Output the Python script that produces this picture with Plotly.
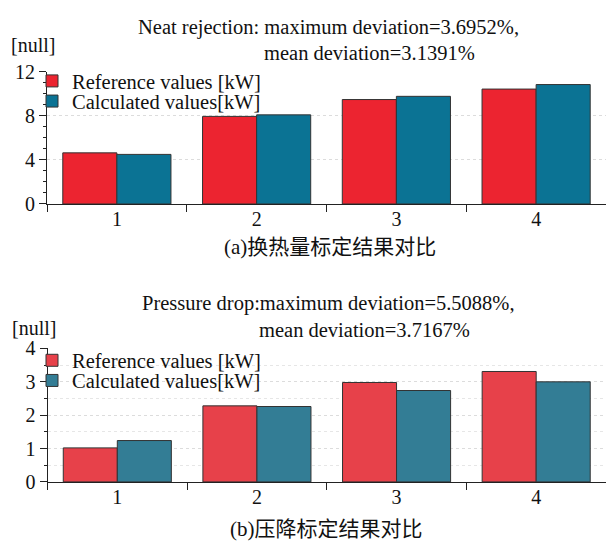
import plotly.graph_objects as go

W, H = 606, 551

categories = ["1", "2", "3", "4"]
heat_ref = [4.64, 7.95, 9.48, 10.43]
heat_calc = [4.50, 8.09, 9.77, 10.84]
dp_ref = [1.02, 2.28, 2.98, 3.31]
dp_calc = [1.24, 2.26, 2.74, 3.00]

name_ref = "Reference values [kW]"
name_calc = "Calculated values[kW]"
title_a1 = "Neat rejection: maximum deviation=3.6952%,"
title_a2 = "mean deviation=3.1391%"
title_b1 = "Pressure drop:maximum deviation=5.5088%,"
title_b2 = "mean deviation=3.7167%"
caption_a = "(a)换热量标定结果对比"
caption_b = "(b)压降标定结果对比"
unit_label = "[null]"

FONT = "Liberation Serif, Times New Roman, serif"
CJK = "Liberation Serif, Noto Sans CJK SC, serif"


def px(x):
    return x / W


def py(y):
    return 1 - y / H


fig = go.Figure()
line = dict(color="#333333", width=1)
fig.add_trace(go.Bar(x=categories, y=heat_ref, name=name_ref, marker=dict(color="#ec2430", line=line),
                     xaxis="x", yaxis="y", legend="legend"))
fig.add_trace(go.Bar(x=categories, y=heat_calc, name=name_calc, marker=dict(color="#0b7394", line=line),
                     xaxis="x", yaxis="y", legend="legend3"))
fig.add_trace(go.Bar(x=categories, y=dp_ref, name=name_ref, marker=dict(color="#e7414a", line=line),
                     xaxis="x2", yaxis="y2", legend="legend2"))
fig.add_trace(go.Bar(x=categories, y=dp_calc, name=name_calc, marker=dict(color="#337d95", line=line),
                     xaxis="x2", yaxis="y2", legend="legend4"))

xcommon = dict(type="category", tickson="boundaries", ticks="outside", ticklen=7, tickcolor="#222",
               showline=True, linecolor="#222", linewidth=1, showgrid=False, zeroline=False,
               ticklabelstandoff=-3,
               tickfont=dict(family=FONT, size=20, color="#111"), range=[-0.5, 3.5])
ycommon = dict(ticks="outside", ticklen=7, tickcolor="#222", showline=True, linecolor="#222", linewidth=1,
               showgrid=True, gridcolor="#dcdcdc", griddash="dot", gridwidth=1, zeroline=False,
               tickfont=dict(family=FONT, size=20, color="#111"))

legfont = dict(family=FONT, size=20.5, color="#111")


def leg(ypix):
    return dict(x=px(32), y=py(ypix), xanchor="left", yanchor="middle", bgcolor="rgba(0,0,0,0)",
                font=legfont, itemwidth=30)


fig.update_layout(
    width=W, height=H, margin=dict(l=0, r=0, t=0, b=0),
    paper_bgcolor="white", plot_bgcolor="white",
    barmode="group", bargap=0.226, bargroupgap=0,
    showlegend=True,
    xaxis=dict(domain=[px(47), 1.0], anchor="y", **xcommon),
    yaxis=dict(domain=[py(201), py(63.3)], anchor="x", range=[0, 12], tickvals=[0, 4, 8, 12],
               minor=dict(dtick=1, ticks="outside", ticklen=3, tickcolor="#222", showgrid=False), **ycommon),
    xaxis2=dict(domain=[px(47.5), 1.0], anchor="y2", **xcommon),
    yaxis2=dict(domain=[py(490.5), py(351.5)], anchor="x2", range=[0, 4], tickvals=[0, 1, 2, 3, 4],
                minor=dict(dtick=0.5, ticks="outside", ticklen=3, tickcolor="#222", showgrid=True,
                           gridcolor="#e6e6e6", griddash="dot"), **ycommon),
    legend=leg(73),
    legend3=leg(94),
    legend2=leg(364),
    legend4=leg(385),
)

ann = [
    dict(text=title_a1, x=px(328), y=py(17), xanchor="center", size=20.5),
    dict(text=title_a2, x=px(262), y=py(44), xanchor="left", size=20.5),
    dict(text=unit_label, x=px(9), y=py(35), xanchor="left", size=20),
    dict(text=caption_a, x=px(330), y=py(246), xanchor="center", size=21, cjk=True),
    dict(text=title_b1, x=px(328), y=py(305), xanchor="center", size=20.5),
    dict(text=title_b2, x=px(257), y=py(332), xanchor="left", size=20.5),
    dict(text=unit_label, x=px(10), y=py(330), xanchor="left", size=20),
    dict(text=caption_b, x=px(326), y=py(540), xanchor="center", size=21, cjk=True),
]
for a in ann:
    fig.add_annotation(text=a["text"], x=a["x"], y=a["y"], xref="paper", yref="paper",
                       xanchor=a["xanchor"], yanchor="middle", showarrow=False,
                       font=dict(family=CJK if a.get("cjk") else FONT, size=a["size"], color="#111"))

fig.write_html("out.html")
